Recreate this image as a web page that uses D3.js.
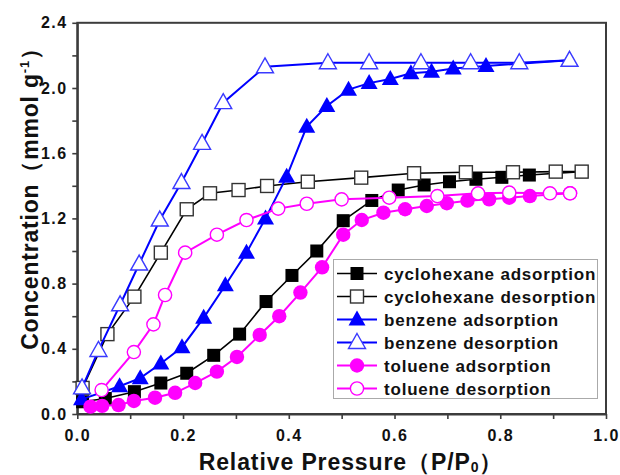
<!DOCTYPE html>
<html><head><meta charset="utf-8">
<script src="https://cdn.jsdelivr.net/npm/d3@7"></script>
<style>body{margin:0;background:#fff}svg{display:block}</style>
</head><body>
<svg id="c" width="620" height="475"></svg>
<script>
// ---- data ----
const xTicks = [0.0, 0.2, 0.4, 0.6, 0.8, 1.0];
const yTicks = [0.0, 0.4, 0.8, 1.2, 1.6, 2.0, 2.4];
const seriesNames = ["cyclohexane adsorption","cyclohexane desorption","benzene adsorption","benzene desorption","toluene adsorption","toluene desorption"];

const cycAdsX = [0.01,0.053,0.108,0.158,0.207,0.258,0.307,0.357,0.406,0.453,0.503,0.557,0.607,0.656,0.704,0.754,0.803,0.855,0.954];
const cycAdsY = [0.075,0.095,0.137,0.19,0.25,0.36,0.49,0.69,0.85,1.0,1.186,1.31,1.374,1.405,1.425,1.44,1.452,1.466,1.487];
const cycDesX = [0.954,0.905,0.824,0.735,0.637,0.537,0.436,0.359,0.305,0.251,0.207,0.158,0.108,0.057,0.01];
const cycDesY = [1.487,1.487,1.483,1.483,1.477,1.45,1.425,1.399,1.374,1.354,1.256,0.99,0.72,0.49,0.16];
const benAdsX = [0.008,0.08,0.119,0.158,0.198,0.239,0.28,0.32,0.356,0.396,0.434,0.472,0.513,0.552,0.592,0.631,0.67,0.711,0.773,0.931];
const benAdsY = [0.09,0.17,0.22,0.31,0.41,0.59,0.79,0.99,1.2,1.456,1.763,1.89,1.99,2.03,2.055,2.09,2.1,2.12,2.135,2.17];
const benDesX = [0.931,0.836,0.744,0.65,0.552,0.474,0.355,0.276,0.236,0.197,0.156,0.117,0.081,0.04,0.009];
const benDesY = [2.17,2.155,2.155,2.155,2.155,2.155,2.13,1.91,1.66,1.42,1.19,0.92,0.67,0.39,0.16];
const tolAdsX = [0.025,0.047,0.078,0.107,0.147,0.185,0.223,0.264,0.302,0.345,0.382,0.422,0.463,0.503,0.538,0.579,0.62,0.661,0.699,0.738,0.779,0.817,0.856,0.932];
const tolAdsY = [0.045,0.05,0.055,0.08,0.1,0.13,0.19,0.26,0.35,0.485,0.6,0.745,0.9,1.1,1.19,1.235,1.256,1.276,1.293,1.309,1.317,1.327,1.337,1.354];
const tolDesX = [0.932,0.894,0.817,0.758,0.681,0.59,0.5,0.434,0.38,0.32,0.264,0.204,0.166,0.144,0.107,0.046];
const tolDesY = [1.354,1.354,1.358,1.354,1.337,1.327,1.317,1.29,1.26,1.19,1.1,0.99,0.73,0.55,0.38,0.147];

// ---- layout ----
const svg = d3.select("#c");
const L = 77.3, R = 606, T = 22.8, B = 414;
const x = d3.scaleLinear().domain([0,1]).range([L,R]);
const y = d3.scaleLinear().domain([0,2.4]).range([B,T]);
const FONT = "'Liberation Sans', Arial, sans-serif";

const series = [
  {name:seriesNames[0], xs:cycAdsX, ys:cycAdsY, color:"#000", shape:"square", filled:true, lw:1.6},
  {name:seriesNames[1], xs:cycDesX, ys:cycDesY, color:"#000", shape:"square", filled:false, lw:1.6},
  {name:seriesNames[2], xs:benAdsX, ys:benAdsY, color:"#0000ff", shape:"triangle", filled:true, lw:2},
  {name:seriesNames[3], xs:benDesX, ys:benDesY, color:"#0000ff", shape:"triangle", filled:false, lw:2},
  {name:seriesNames[4], xs:tolAdsX, ys:tolAdsY, color:"#ff00ff", shape:"circle", filled:true, lw:2},
  {name:seriesNames[5], xs:tolDesX, ys:tolDesY, color:"#ff00ff", shape:"circle", filled:false, lw:2}
];

function drawMarker(g, shape, cx, cy, s, filled) {
  const fill = filled ? s.color : "#fff";
  const stroke = shape==="triangle" && !filled ? "#3a3aff" : (shape==="square" && !filled ? "#333" : s.color);
  if (shape === "square") {
    g.append("rect").attr("x", cx-6.5).attr("y", cy-6.5).attr("width", 13).attr("height", 13)
      .attr("fill", fill).attr("stroke", stroke).attr("stroke-width", filled?0:1.4);
  } else if (shape === "circle") {
    g.append("circle").attr("cx", cx).attr("cy", cy).attr("r", filled?7.2:6.6)
      .attr("fill", fill).attr("stroke", stroke).attr("stroke-width", filled?0:1.4);
  } else {
    const w = 17, h = 15;
    g.append("path").attr("d", `M${cx},${cy-h*0.6}L${cx+w/2},${cy+h*0.4}L${cx-w/2},${cy+h*0.4}Z`)
      .attr("fill", fill).attr("stroke", stroke).attr("stroke-width", filled?0:1.4);
  }
}

// frame
svg.append("rect").attr("x", L).attr("y", T).attr("width", R-L).attr("height", B-T)
  .attr("fill", "none").attr("stroke", "#3c3c3c").attr("stroke-width", 2);

// axes
const xAxis = d3.axisBottom(x).tickValues(d3.range(0, 1.0001, 0.1)).tickSizeOuter(0).tickSizeInner(5)
  .tickFormat(d => (Math.round(d*10)%2===0) ? d3.format(".1f")(d) : "");
const gx = svg.append("g").attr("transform", `translate(0,${B})`).call(xAxis);
const yAxis = d3.axisLeft(y).tickValues(d3.range(0, 2.4001, 0.2)).tickSizeOuter(0).tickSizeInner(5)
  .tickFormat(d => (Math.round(d*10)%4===0) ? d3.format(".1f")(d) : "");
const gy = svg.append("g").attr("transform", `translate(${L},0)`).call(yAxis);
[gx, gy].forEach(g => {
  g.select(".domain").attr("stroke", "#3c3c3c").attr("stroke-width", 2);
  g.selectAll(".tick line").attr("stroke", "#3c3c3c").attr("stroke-width", 1.6);
  g.selectAll(".tick text").attr("font-family", FONT).attr("font-weight", "bold")
    .attr("font-size", 16).attr("fill", "#111").style("letter-spacing", "1.5px");
});
gx.selectAll(".tick text").attr("dy", "1.2em");
gy.selectAll(".tick text").attr("dx", "-0.1em");

// series
series.forEach(s => {
  const pts = s.xs.map((v,i) => [x(v), y(s.ys[i])]);
  svg.append("path").attr("d", d3.line()(pts)).attr("fill", "none")
    .attr("stroke", s.color).attr("stroke-width", s.lw);
  const g = svg.append("g");
  pts.forEach(p => drawMarker(g, s.shape, p[0], p[1], s, s.filled));
});

// legend
const lg = svg.append("g");
lg.append("rect").attr("x", 333.5).attr("y", 259.5).attr("width", 264).attr("height", 139)
  .attr("fill", "#fff").attr("stroke", "#aaa").attr("stroke-width", 1);
series.forEach((s, i) => {
  const cy = 273.5 + i*23;
  lg.append("line").attr("x1", 337).attr("x2", 377).attr("y1", cy).attr("y2", cy)
    .attr("stroke", s.color).attr("stroke-width", s.lw);
  drawMarker(lg, s.shape, 357, cy, s, s.filled);
  lg.append("text").attr("x", 384).attr("y", cy).attr("dy", "0.36em")
    .attr("font-family", FONT).attr("font-weight", "bold").attr("font-size", 17)
    .style("letter-spacing", "0.8px").attr("fill", "#111").text(s.name);
});

// axis titles
const xt = svg.append("text").attr("x", 351).attr("y", 470).attr("text-anchor", "middle")
  .attr("font-family", FONT).attr("font-weight", "bold").attr("font-size", 23).attr("fill", "#111")
  .style("letter-spacing", "0.9px");
xt.append("tspan").text("Relative Pressure（P/P");
xt.append("tspan").attr("font-size", 14).attr("dy", 2).text("0");
xt.append("tspan").attr("dy", -2).text("）");

const yt = svg.append("text").attr("transform", "translate(38,193) rotate(-90)").attr("text-anchor", "middle")
  .attr("font-family", FONT).attr("font-weight", "bold").attr("font-size", 23).attr("fill", "#111")
  .style("letter-spacing", "0.8px");
yt.append("tspan").text("Concentration（mmol g");
yt.append("tspan").attr("font-size", 13).attr("dy", -9).text("-1");
yt.append("tspan").attr("dy", 9).text("）");
</script>
</body></html>
